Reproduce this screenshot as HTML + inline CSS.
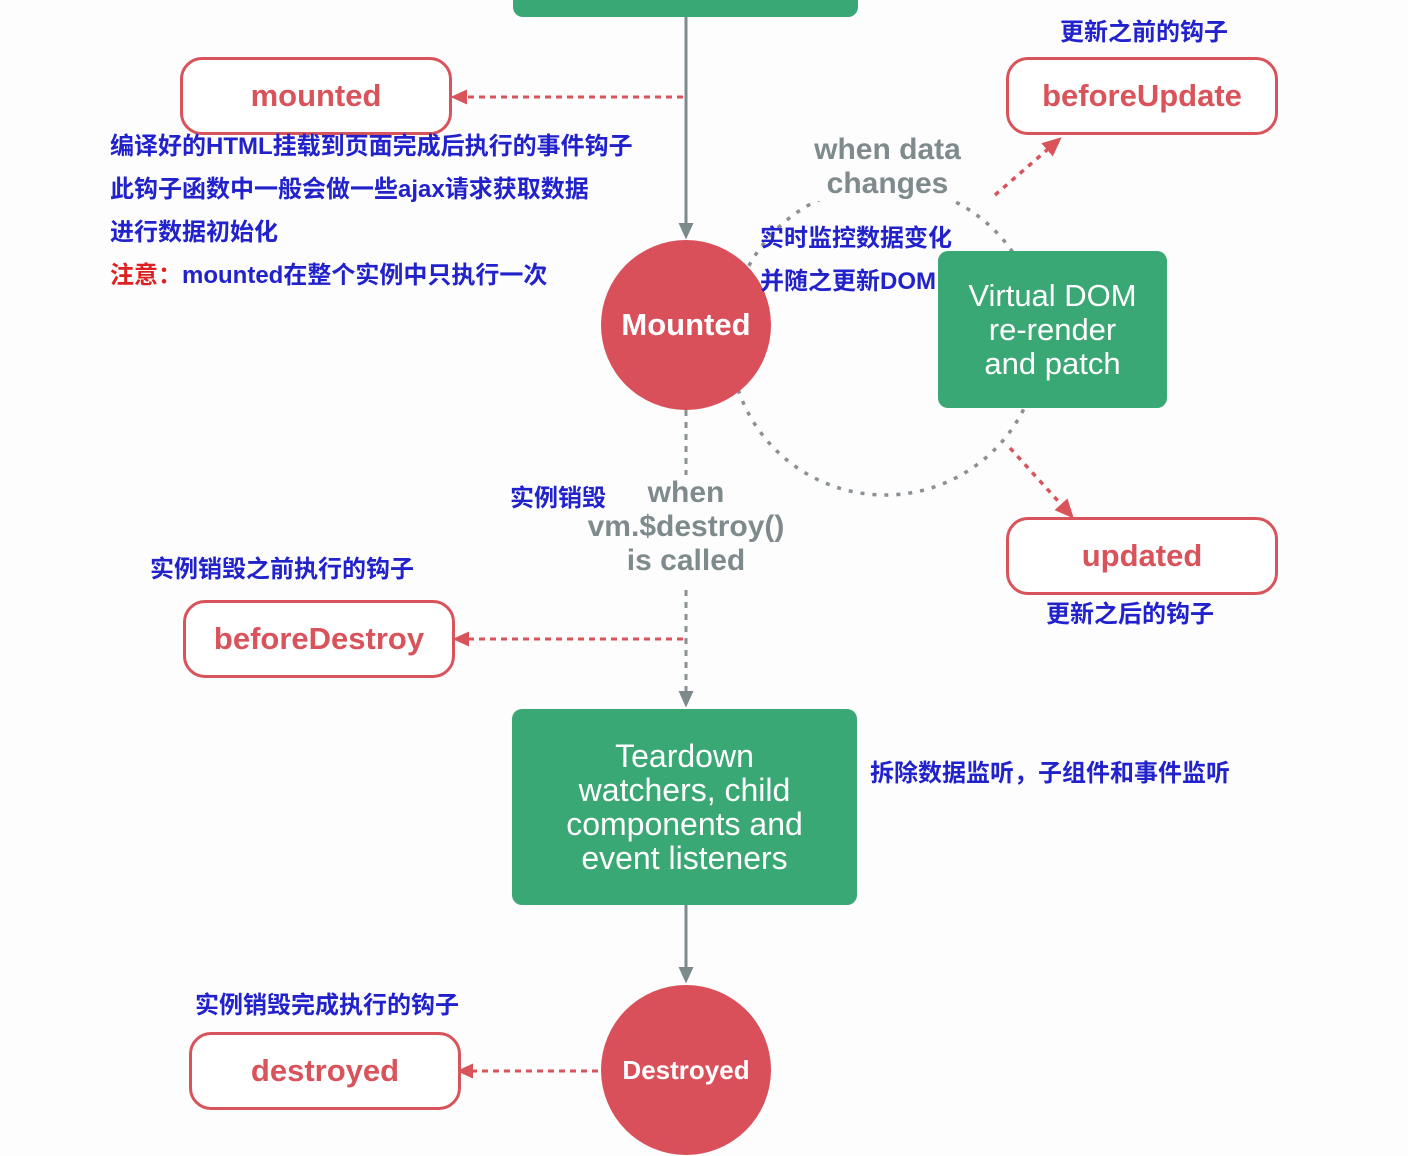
<!DOCTYPE html>
<html><head><meta charset="utf-8"><style>
body{margin:0;width:1408px;height:1156px;background:#fdfdfd;position:relative;overflow:hidden;font-family:"Liberation Sans","Noto Sans CJK SC",sans-serif}
.t{position:absolute;white-space:nowrap}
.blue{color:#2222cc;font-size:24px;font-weight:bold;line-height:28px}
.hook{position:absolute;border:3px solid #d9535b;border-radius:22px;background:#fff;color:#d9535b;font-weight:bold;font-size:31px;display:flex;align-items:center;justify-content:center;box-sizing:border-box}
.green{position:absolute;background:#3aa874;color:#fff;border-radius:10px;display:flex;align-items:center;justify-content:center;text-align:center;font-size:31px;line-height:34px;box-sizing:border-box}
.circ{position:absolute;background:#d9505a;border-radius:50%;color:#fff;font-weight:bold;display:flex;align-items:center;justify-content:center}
.gray{color:#7f8a8d;font-weight:bold;font-size:30px;text-align:center;line-height:34px}
</style></head><body>
<svg width="1408" height="1156" style="position:absolute;left:0;top:0">
<defs>
<marker id="ag" markerWidth="6" markerHeight="6" refX="3" refY="3" orient="auto"><path d="M0,0.5 L5.5,3 L0,5.5z" fill="#7d8a8d"/></marker>
<marker id="ar" markerWidth="6" markerHeight="6" refX="3" refY="3" orient="auto"><path d="M0,0.5 L5.5,3 L0,5.5z" fill="#d9535b"/></marker>
</defs>
<line x1="686" y1="15" x2="686" y2="232" stroke="#7d8a8d" stroke-width="3" marker-end="url(#ag)"/>
<line x1="683" y1="97" x2="458" y2="97" stroke="#d9535b" stroke-width="3" stroke-dasharray="6,5" marker-end="url(#ar)"/>
<circle cx="885" cy="340" r="155" fill="none" stroke="#8a9194" stroke-width="3.5" stroke-dasharray="4,8"/>
<line x1="995" y1="195" x2="1055" y2="143" stroke="#d9535b" stroke-width="3.5" stroke-dasharray="5,6" marker-end="url(#ar)"/>
<line x1="1010" y1="448" x2="1068" y2="512" stroke="#d9535b" stroke-width="3.5" stroke-dasharray="5,6" marker-end="url(#ar)"/>
<line x1="686" y1="410" x2="686" y2="475" stroke="#8a9194" stroke-width="3" stroke-dasharray="6,6"/>
<line x1="686" y1="590" x2="686" y2="700" stroke="#8a9194" stroke-width="3" stroke-dasharray="6,6" marker-end="url(#ag)"/>
<line x1="683" y1="639" x2="460" y2="639" stroke="#d9535b" stroke-width="3" stroke-dasharray="6,5" marker-end="url(#ar)"/>
<line x1="686" y1="905" x2="686" y2="976" stroke="#7d8a8d" stroke-width="3" marker-end="url(#ag)"/>
<line x1="598" y1="1071" x2="464" y2="1071" stroke="#d9535b" stroke-width="3" stroke-dasharray="6,5" marker-end="url(#ar)"/>
</svg>
<div class="green" style="left:513px;top:-20px;width:345px;height:37px"></div>
<div class="hook" style="left:180px;top:57px;width:272px;height:78px">mounted</div>
<div class="t blue" style="left:110px;top:133px">编译好的HTML挂载到页面完成后执行的事件钩子</div>
<div class="t blue" style="left:110px;top:176px">此钩子函数中一般会做一些ajax请求获取数据</div>
<div class="t blue" style="left:110px;top:219px">进行数据初始化</div>
<div class="t blue" style="left:110px;top:262px"><span style="color:#e02020">注意：</span>mounted在整个实例中只执行一次</div>
<div class="circ" style="left:601px;top:240px;width:170px;height:170px;font-size:31px">Mounted</div>
<div class="t gray" style="left:795px;top:133px;width:185px;background:#fdfdfd">when data<br>changes</div>
<div class="t blue" style="left:760px;top:225px">实时监控数据变化</div>
<div class="t blue" style="left:760px;top:268px">并随之更新DOM</div>
<div class="green" style="left:938px;top:251px;width:229px;height:157px">Virtual DOM<br>re-render<br>and patch</div>
<div class="t blue" style="left:1060px;top:19px">更新之前的钩子</div>
<div class="hook" style="left:1006px;top:57px;width:272px;height:78px">beforeUpdate</div>
<div class="hook" style="left:1006px;top:517px;width:272px;height:78px">updated</div>
<div class="t blue" style="left:1046px;top:601px">更新之后的钩子</div>
<div class="t blue" style="left:510px;top:485px">实例销毁</div>
<div class="t gray" style="left:571px;top:476px;width:230px">when<br>vm.$destroy()<br>is called</div>
<div class="t blue" style="left:150px;top:556px">实例销毁之前执行的钩子</div>
<div class="hook" style="left:183px;top:600px;width:272px;height:78px">beforeDestroy</div>
<div class="green" style="left:512px;top:709px;width:345px;height:196px;font-size:32px">Teardown<br>watchers, child<br>components and<br>event listeners</div>
<div class="t blue" style="left:870px;top:760px">拆除数据监听，子组件和事件监听</div>
<div class="t blue" style="left:195px;top:992px">实例销毁完成执行的钩子</div>
<div class="hook" style="left:189px;top:1032px;width:272px;height:78px">destroyed</div>
<div class="circ" style="left:601px;top:985px;width:170px;height:170px;font-size:26px">Destroyed</div>
</body></html>
